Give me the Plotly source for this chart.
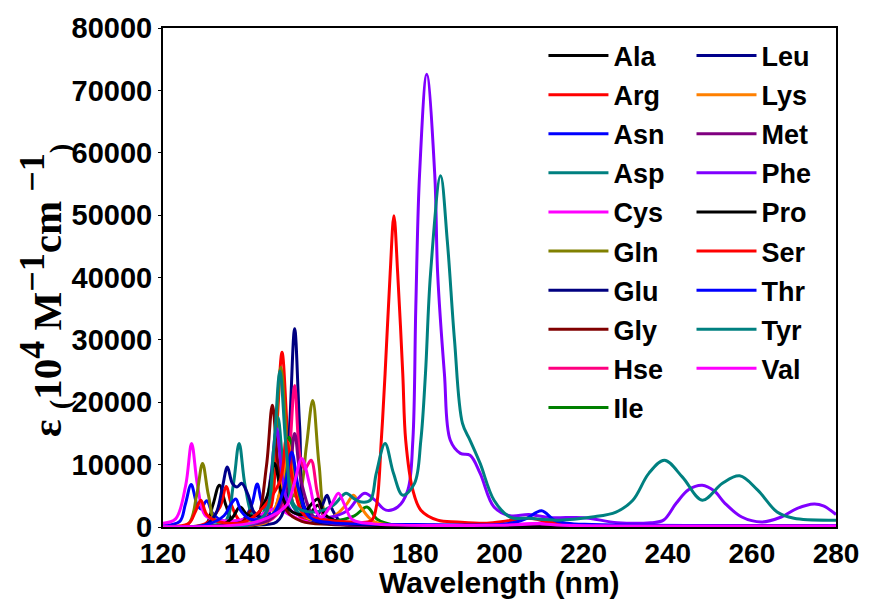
import plotly.graph_objects as go

# ---------------- data (wavelength nm, epsilon) ----------------
names = ["Ala", "Arg", "Asn", "Asp", "Cys", "Gln", "Glu", "Gly", "Hse", "Ile",
         "Leu", "Lys", "Met", "Phe", "Pro", "Ser", "Thr", "Tyr", "Val"]

colors = ["#000000", "#FF0000", "#0000FF", "#008080", "#FF00FF", "#808000", "#000080",
          "#800000", "#FF0080", "#008000", "#00008B", "#FF8000", "#800080", "#8000FF",
          "#000000", "#FF0000", "#0000FF", "#008080", "#FF00FF"]

ala_x = [120, 130, 131.8, 133.4, 135, 137, 144, 148.8, 150.5, 152.2, 154.8, 156.8, 158.8, 163, 180, 220, 280]
ala_y = [100, 300, 3400, 6700, 3400, 600, 700, 5300, 10400, 5300, 2200, 3500, 1200, 400, 200, 100, 50]

arg_x = [120, 130, 133.6, 135, 136.4, 138.5, 144, 145.8, 147, 148.3, 149.6, 151, 153.5, 160, 175, 210, 280]
arg_y = [100, 500, 3300, 6500, 3300, 900, 900, 3500, 15000, 28000, 15000, 3500, 1200, 500, 300, 200, 100]

asn_x = [120, 124, 125.3, 126.7, 128.1, 129, 130.4, 131.8, 134, 139, 141.1, 142.4, 143.7, 146, 149.1, 150.6, 152.1, 154.5, 160, 180, 280]
asn_y = [200, 900, 3600, 6800, 3600, 2900, 4200, 2200, 1000, 1200, 3600, 6900, 3600, 2000, 6000, 11500, 5500, 1500, 600, 300, 100]

asp_x = [120, 130, 134.8, 136.7, 138.1, 139.5, 141.5, 143.3, 145.8, 147.3, 148.8, 151, 154, 160, 170, 200, 280]
asp_y = [50, 200, 900, 6700, 13400, 6700, 1600, 1600, 8800, 17600, 8800, 3200, 1600, 800, 400, 200, 100]

cys_x = [120, 123, 125.4, 126.8, 128.2, 130, 133, 140, 144, 147, 150, 154, 160, 170, 200, 210, 216, 280]
cys_y = [600, 1300, 6700, 13400, 6700, 1900, 1100, 1300, 2200, 3000, 2000, 900, 700, 400, 300, 600, 300, 200]

gln_x = [120, 126, 128, 129.4, 130.8, 132.6, 140, 144.2, 146.5, 148, 149.5, 151.1, 152.5, 154.1, 155.6, 157.1, 158.9, 162, 170, 200, 280]
gln_y = [100, 500, 5100, 10200, 5100, 1000, 600, 1800, 13000, 25600, 13500, 5000, 5600, 13000, 20300, 10000, 1600, 500, 300, 200, 100]

glu_x = [120, 140, 147, 148.9, 150.1, 151.3, 152.5, 153.9, 156.4, 157.9, 159, 160.1, 162.5, 170, 200, 280]
glu_y = [50, 300, 800, 3200, 16000, 31800, 16000, 2800, 1600, 3500, 5100, 3000, 700, 300, 200, 100]

gly_x = [120, 135, 139, 141, 142.5, 144.6, 146, 147.4, 149.4, 153, 160, 200, 280]
gly_y = [50, 300, 900, 2700, 1900, 9800, 19500, 9800, 2600, 900, 400, 200, 100]

hse_x = [120, 140, 145, 148.3, 150, 151.3, 152.6, 153.7, 155.2, 156.7, 158.5, 162, 170, 200, 280]
hse_y = [50, 300, 900, 3200, 11400, 22700, 11200, 9300, 10700, 5500, 1600, 600, 300, 200, 100]

ile_x = [120, 140, 145, 148.4, 150, 151.6, 154, 160, 165.5, 168.5, 171, 175, 200, 280]
ile_y = [50, 300, 1000, 7200, 14400, 7200, 1600, 1000, 1800, 3200, 1200, 300, 200, 100]

leu_x = [120, 130, 132.6, 134.1, 135.3, 136.5, 137.6, 138.7, 140.2, 142, 145, 148.6, 150.4, 152.3, 155, 160, 200, 280]
leu_y = [50, 300, 2200, 6300, 9600, 7000, 6400, 7000, 5200, 2000, 1600, 4500, 9000, 3800, 1300, 500, 200, 100]

lys_x = [120, 140, 145, 148.2, 149.7, 151.2, 154, 160, 163.6, 165.3, 167, 170, 175, 200, 280]
lys_y = [50, 300, 1000, 6800, 13600, 6800, 1600, 1500, 3600, 5100, 3200, 900, 300, 200, 100]

met_x = [120, 140, 146, 149.8, 151.3, 152.8, 156, 160, 200, 280]
met_y = [50, 300, 1500, 7500, 15000, 7500, 1500, 600, 200, 100]

phe_x = [120, 140, 144, 145.6, 147, 148.4, 150.5, 155, 160, 164, 166, 168, 170.4, 173, 175.8, 178.2,
         179.4, 180.1, 181, 182.7, 184.6, 185.3, 186.9, 188.3, 190.7, 193, 195.4, 198.7, 202.5, 207,
         212, 220, 228, 236, 239, 242, 245, 248.2, 251, 253.6, 257.6, 262.3, 267, 270.8, 274.8, 277, 280]
phe_y = [50, 300, 1600, 7900, 15800, 7900, 2600, 1600, 1600, 2700, 4300, 5400, 4300, 2700, 3200, 5900,
         13900, 35200, 56600, 72600, 56600, 40600, 24600, 13900, 11800, 11500, 8600, 3200, 1800, 2000,
         1500, 1500, 700, 700, 1100, 3800, 6000, 6700, 5800, 3800, 1600, 800, 1600, 3000, 3700, 3400, 2000]

pro_x = [120, 134, 136.5, 138.3, 140, 142, 144.8, 146.5, 148.2, 150, 153, 155.2, 156.8, 158.5, 162, 170, 200, 280]
pro_y = [50, 300, 1500, 3200, 2000, 1800, 5000, 10200, 5200, 2800, 2000, 3600, 4500, 2000, 800, 300, 200, 100]

ser_x = [120, 126, 127.6, 129, 130.4, 133, 140, 147.6, 149.3, 151, 153.5, 158, 165, 169.5, 170.7, 171.9,
         172.8, 174, 174.9, 175.8, 177, 177.7, 179.4, 181.3, 185.3, 190, 197, 202, 207, 212, 220, 280]
ser_y = [100, 500, 2300, 4300, 2000, 900, 1000, 7000, 14000, 7000, 2000, 1200, 800, 1000, 3200, 13900,
         24600, 40600, 49900, 40600, 24600, 13900, 5900, 2700, 1100, 800, 600, 1000, 1400, 800, 300, 100]

thr_x = [120, 130, 134.5, 136, 137.3, 138.6, 141, 146, 148.9, 150.6, 152.3, 155, 160, 180, 200, 204, 206.5, 210, 213, 216, 222, 280]
thr_y = [50, 300, 1800, 3500, 4500, 2500, 1200, 2000, 6500, 12000, 6000, 1500, 700, 400, 400, 800, 1400, 2600, 1100, 600, 400, 200]

tyr_x = [120, 140, 144.2, 146.3, 147.8, 149.3, 151.2, 154, 157, 160.5, 163.5, 165.5, 167.2, 169.3, 170.7,
         172.8, 174.8, 177, 179.8, 181.3, 182.4, 183.6, 186, 187.6, 189.3, 191.2, 193, 195.4, 198.7,
         202.5, 207, 214, 222, 227.7, 231.7, 235.5, 239.2, 243.5, 248.2, 253, 257.1, 261.4, 266, 270, 280]
tyr_y = [50, 300, 2000, 12500, 25000, 12500, 3500, 2500, 2500, 3500, 5400, 4500, 4000, 4300, 8600,
         13400, 8600, 5100, 7000, 13900, 24600, 40600, 56300, 45800, 30000, 16600, 13900, 10200, 4300,
         1600, 1400, 1100, 1600, 2400, 4300, 8600, 10700, 8000, 4300, 7000, 8200, 5900, 2400, 1400, 1100]

val_x = [120, 140, 145, 149.4, 151.2, 153, 154.8, 156.4, 157.7, 160.2, 161.7, 163.2, 165, 170, 200, 210, 215, 280]
val_y = [50, 500, 1500, 3500, 7000, 11000, 7000, 2500, 1600, 3800, 5400, 3500, 1200, 500, 300, 500, 300, 150]

xs = [ala_x, arg_x, asn_x, asp_x, cys_x, gln_x, glu_x, gly_x, hse_x, ile_x,
      leu_x, lys_x, met_x, phe_x, pro_x, ser_x, thr_x, tyr_x, val_x]
ys = [ala_y, arg_y, asn_y, asp_y, cys_y, gln_y, glu_y, gly_y, hse_y, ile_y,
      leu_y, lys_y, met_y, phe_y, pro_y, ser_y, thr_y, tyr_y, val_y]

x_ticks = [120, 140, 160, 180, 200, 220, 240, 260, 280]
y_ticks = [0, 10000, 20000, 30000, 40000, 50000, 60000, 70000, 80000]

x_title = "Wavelength (nm)"
SUP = "<sup><span style='font-size:36px'>%s</span></sup>"
y_title = ("ε <sub>(</sub>10" + SUP % "4" + " M" + SUP % "−1" + "cm" + SUP % " −1" + "<sub>)</sub>")

# ---------------- figure ----------------
SANS = "Liberation Sans, Arial, sans-serif"
SERIF = "Liberation Serif, Times New Roman, serif"

fig = go.Figure()
for i, (n, c, x, y) in enumerate(zip(names, colors, xs, ys)):
    fig.add_trace(go.Scatter(
        x=x, y=y, name=n, mode="lines",
        line=dict(color=c, width=3, shape="spline", smoothing=1.0),
        legend="legend" if i < 10 else "legend2",
        legendgroup=n,
    ))

legend_common = dict(
    font=dict(family=SANS, size=27, color="black", weight="bold"),
    bgcolor="rgba(0,0,0,0)", borderwidth=0,
    tracegroupgap=1, itemwidth=60, yanchor="top", xanchor="left",
)
fig.update_layout(
    width=871, height=603,
    margin=dict(l=163, r=29, t=27, b=76),
    plot_bgcolor="white", paper_bgcolor="white",
    legend=dict(x=0.5653, y=0.993, **legend_common),
    legend2=dict(x=0.7853, y=0.993, **legend_common),
    xaxis=dict(
        range=[120, 280], tickvals=x_ticks, ticktext=[str(v) for v in x_ticks],
        showline=True, linecolor="black", linewidth=2, mirror=True,
        ticks="", showgrid=False, zeroline=False,
        tickfont=dict(family=SANS, size=28, color="black", weight="bold"),
    ),
    yaxis=dict(
        range=[0, 80000], tickvals=y_ticks, ticktext=[str(v) for v in y_ticks],
        showline=True, linecolor="black", linewidth=2, mirror=True,
        ticks="outside", ticklen=3, tickcolor="black", showgrid=False, zeroline=False,
        tickfont=dict(family=SANS, size=29, color="black", weight="bold"),
    ),
    annotations=[
        dict(text=x_title, xref="paper", yref="paper", x=0.5, y=-0.112,
             xanchor="center", yanchor="middle", showarrow=False,
             font=dict(family=SANS, size=30, color="black", weight="bold")),
        dict(text=y_title, xref="paper", yref="paper", x=-0.176, y=0.474,
             xanchor="center", yanchor="middle", textangle=-90, showarrow=False,
             font=dict(family=SERIF, size=41, color="black", weight="bold")),
    ],
)

fig.write_html("out.html")
